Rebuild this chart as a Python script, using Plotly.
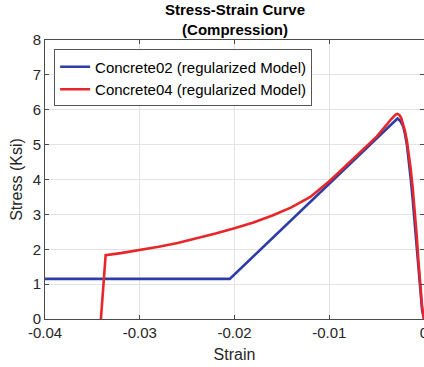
import plotly.graph_objects as go

# Concrete02 (regularized Model)
c02_strain = [-0.04, -0.0205, -0.0028, -0.0025, -0.0022, -0.002, -0.0018, -0.0016, -0.0014,
              -0.0012, -0.001, -0.0008, -0.0006, -0.0004, -0.0002, 0.0]
c02_stress = [1.15, 1.15, 5.75, 5.68, 5.52, 5.3, 4.98, 4.55, 4.02,
              3.45, 2.82, 2.1, 1.35, 0.7, 0.25, 0.0]

# Concrete04 (regularized Model)
c04_strain = [-0.0341, -0.0336, -0.032, -0.030, -0.028, -0.026, -0.024, -0.022, -0.020,
              -0.018, -0.016, -0.014, -0.012, -0.011, -0.010, -0.009, -0.008, -0.007,
              -0.006, -0.005, -0.0045, -0.004, -0.0035, -0.0032, -0.003, -0.0028,
              -0.0026, -0.0024, -0.0022, -0.002, -0.0018, -0.0016, -0.0014, -0.0012,
              -0.001, -0.0008, -0.0006, -0.0004, -0.0002, 0.0]
c04_stress = [0.0, 1.83, 1.89, 1.97, 2.07, 2.18, 2.31, 2.45, 2.60,
              2.77, 2.97, 3.2, 3.5, 3.72, 3.95, 4.2, 4.45, 4.71,
              4.97, 5.23, 5.38, 5.55, 5.72, 5.81, 5.86, 5.88,
              5.85, 5.76, 5.6, 5.38, 5.1, 4.72, 4.3, 3.78,
              3.2, 2.5, 1.7, 0.9, 0.35, 0.0]

x_ticks = [-0.04, -0.03, -0.02, -0.01, 0.0]
x_labels = ["-0.04", "-0.03", "-0.02", "-0.01", "0"]
y_ticks = [0, 1, 2, 3, 4, 5, 6, 7, 8]
title_text = "<b>Stress-Strain Curve</b><br><b>(Compression)</b>"

FONT = "Liberation Sans, Arial"

fig = go.Figure()
fig.add_trace(go.Scatter(x=c02_strain, y=c02_stress, mode="lines",
                         name="Concrete02 (regularized Model)",
                         line=dict(color="#2E3DA6", width=2.6)))
fig.add_trace(go.Scatter(x=c04_strain, y=c04_stress, mode="lines",
                         name="Concrete04 (regularized Model)",
                         line=dict(color="#E8262A", width=2.6)))

axis_common = dict(showline=True, linecolor="#4a4a4a", linewidth=1, mirror="ticks",
                   ticks="inside", ticklen=4, tickcolor="#4a4a4a",
                   showgrid=True, gridcolor="#e3e3e3", gridwidth=1, zeroline=False,
                   ticklabeloverflow="allow", automargin=False,
                   tickfont=dict(family=FONT, size=15, color="#262626"))

fig.update_layout(
    width=424, height=367,
    margin=dict(l=45, r=0, t=40, b=48),
    paper_bgcolor="white", plot_bgcolor="white",
    xaxis=dict(range=[-0.04, 0.0], tickvals=x_ticks, ticktext=x_labels,
               title=dict(text="Strain", font=dict(family=FONT, size=16, color="#262626"),
                          standoff=8),
               **axis_common),
    yaxis=dict(range=[0, 8], tickvals=y_ticks,
               title=dict(text="Stress (Ksi)", font=dict(family=FONT, size=16, color="#262626"),
                          standoff=6),
               **axis_common),
    legend=dict(x=0.024, y=0.966, xanchor="left", yanchor="top",
                bgcolor="white", bordercolor="#555555", borderwidth=1,
                font=dict(family=FONT, size=15, color="#000000"),
                tracegroupgap=0, itemwidth=30),
    showlegend=True,
)

fig.add_annotation(text=title_text, xref="paper", yref="paper",
                   x=0.5, y=1.072, xanchor="center", yanchor="middle",
                   showarrow=False,
                   font=dict(family=FONT, size=15, color="#000000"))

fig.write_html("out.html")
